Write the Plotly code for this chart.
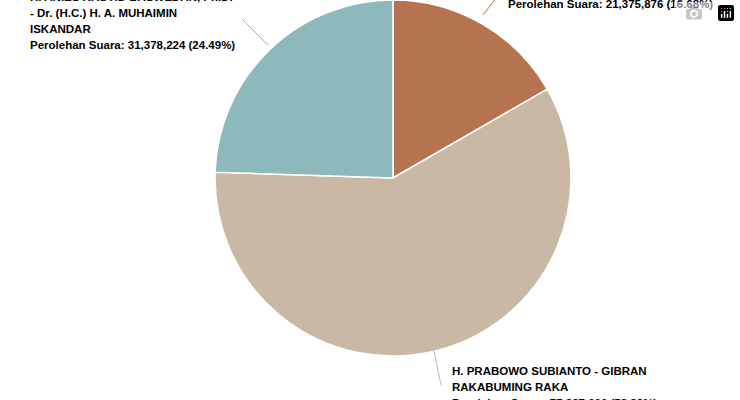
import plotly.graph_objects as go

candidates = ["H. GANJAR PRANOWO, S.H., M.I.P. - Prof. Dr. H. M. MAHFUD MD",
              "H. PRABOWO SUBIANTO - GIBRAN RAKABUMING RAKA",
              "H. ANIES RASYID BASWEDAN, Ph.D. - Dr. (H.C.) H. A. MUHAIMIN ISKANDAR"]
votes = [21375876, 75387000, 31378224]
pcts = ["16.68%", "58.83%", "24.49%"]
colors = ["#B5734F", "#C8B8A4", "#8DB8BC"]
label_lines = [
    ["H. GANJAR PRANOWO, S.H., M.I.P. -", "Prof. Dr. H. M. MAHFUD MD"],
    ["H. PRABOWO SUBIANTO - GIBRAN", "RAKABUMING RAKA"],
    ["H. ANIES RASYID BASWEDAN, Ph.D.", "- Dr. (H.C.) H. A. MUHAIMIN", "ISKANDAR"],
]

W, H = 740, 400
fig = go.Figure(go.Pie(
    labels=candidates, values=votes, sort=False, direction="clockwise", rotation=0,
    marker=dict(colors=colors, line=dict(color="white", width=1.5)),
    textinfo="none", hoverinfo="label+value+percent", showlegend=False,
    domain=dict(x=[(393 - 178) / W, (393 + 178) / W], y=[0.11, 1.0]),
))

blocks = [(508, 4 - 16 * 2, (483, 15, 496, -2)),
          (452, 371, (432, 342, 441, 385)),
          (30, -3, (268, 45, 242, 19))]
annotations, shapes = [], []
for i, (x0, y0, ln) in enumerate(blocks):
    lines = label_lines[i] + [f"Perolehan Suara: {votes[i]:,} ({pcts[i]})"]
    for j, t in enumerate(lines):
        annotations.append(dict(x=(x0 - 2) / W, y=1 - (y0 + 16 * j) / H, xref="paper", yref="paper",
                                text=t, showarrow=False, xanchor="left", yanchor="middle",
                                font=dict(family="Liberation Sans, Arial", size=11.5, color="black", weight="bold")))
    shapes.append(dict(type="line", xref="paper", yref="paper",
                       x0=ln[0] / W, y0=1 - ln[1] / H, x1=ln[2] / W, y1=1 - ln[3] / H,
                       line=dict(color=colors[i], width=1)))

fig.update_layout(width=W, height=H, margin=dict(l=0, r=0, t=0, b=0),
                  paper_bgcolor="white", annotations=annotations, shapes=shapes)
fig.write_html("out.html", post_script="document.body.style.margin='0';")
